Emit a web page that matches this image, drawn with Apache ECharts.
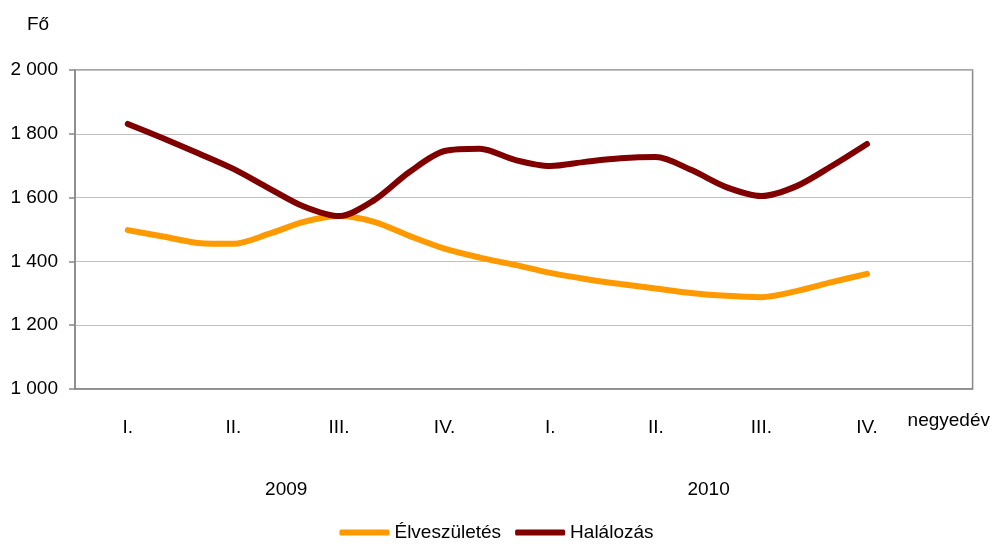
<!DOCTYPE html>
<html>
<head>
<meta charset="utf-8">
<script src="https://cdn.jsdelivr.net/npm/echarts@6/dist/echarts.min.js"></script>
<style>
  html, body { margin: 0; padding: 0; background: #fff; }
  #chart { width: 993px; height: 549px; }
</style>
</head>
<body>
<div id="chart"></div>
<script>
// quarter labels (2009 I. .. 2010 IV.), year labels
const quarters = ['I.', 'II.', 'III.', 'IV.', 'I.', 'II.', 'III.', 'IV.']
const years = ['2009', '2010']
const yearPos = [1.5, 5.5]

// monthly step inside the quarters (x = quarter index)
const steps = [0, 1/3, 2/3, 1, 4/3, 5/3, 2, 7/3, 8/3, 3, 10/3, 11/3, 4, 13/3, 14/3, 5, 16/3, 17/3, 6, 19/3, 20/3, 7]

// values (Fő)
const elveszuletes = [1498, 1478, 1458, 1455, 1486, 1524, 1542, 1524, 1480, 1440, 1412, 1389, 1364, 1345, 1329, 1315, 1301, 1292, 1288, 1307, 1335, 1361]
const halalozas = [1831, 1786, 1739, 1690, 1630, 1572, 1542, 1592, 1680, 1746, 1753, 1718, 1699, 1712, 1723, 1727, 1687, 1633, 1605, 1636, 1699, 1768]

const font = "'Liberation Sans Narrow', 'Liberation Sans', Arial, sans-serif"

const pairs = arr => steps.map((x, i) => [x, arr[i]])

const chart = echarts.init(document.getElementById('chart'))

chart.setOption({
    animation: false,
    textStyle: { fontFamily: font, color: '#000' },
    grid: {
        left: 75,
        right: 18,
        top: 70,
        bottom: 160,
        show: true,
        borderColor: '#888',
        borderWidth: 1.5
    },
    legend: {
        bottom: 2,
        left: 'center',
        icon: 'roundRect',
        itemWidth: 50,
        itemHeight: 6,
        itemGap: 14,
        textStyle: { fontFamily: font, fontSize: 19, color: '#000' },
        data: ['Élveszületés', 'Halálozás']
    },
    xAxis: [
        {
            type: 'value',
            min: -0.5,
            max: 8,
            name: 'negyedév',
            nameLocation: 'end',
            nameGap: -65,
            nameTextStyle: { fontFamily: font, fontSize: 19, color: '#000', align: 'left', verticalAlign: 'top', padding: [22, 0, 0, 0] },
            axisLine: { show: true, onZero: false, lineStyle: { color: '#888', width: 1.5 } },
            axisTick: { show: false },
            splitLine: { show: false },
            axisLabel: {
                customValues: quarters.map((q, i) => i),
                formatter: v => quarters[Math.round(v)] || '',
                fontSize: 19,
                color: '#000',
                margin: 29
            }
        },
        {
            type: 'value',
            min: -0.5,
            max: 8,
            position: 'bottom',
            axisLine: { show: false, onZero: false },
            axisTick: { show: false },
            splitLine: { show: false },
            axisLabel: {
                customValues: yearPos,
                formatter: v => years[yearPos.indexOf(v)] || '',
                fontSize: 19,
                color: '#000',
                margin: 91
            }
        }
    ],
    yAxis: {
        type: 'value',
        min: 1000,
        max: 2000,
        interval: 200,
        name: 'Fő',
        nameLocation: 'end',
        nameGap: 36,
        nameTextStyle: { fontFamily: font, fontSize: 19, color: '#000', align: 'center', padding: [0, 74, 0, 0] },
        axisLine: { show: true, onZero: false, lineStyle: { color: '#888', width: 1.5 } },
        axisTick: { show: true, length: 6, lineStyle: { color: '#888', width: 1.5 } },
        splitLine: { show: true, lineStyle: { color: '#c0c0c0', width: 1 } },
        axisLabel: {
            fontSize: 19,
            color: '#000',
            margin: 17,
            formatter: v => String(v).replace(/\B(?=(\d{3})+(?!\d))/g, ' ')
        }
    },
    series: [
        {
            name: 'Élveszületés',
            type: 'line',
            data: pairs(elveszuletes),
            smooth: 0.3,
            symbol: 'none',
            color: '#ff9900',
            lineStyle: { color: '#ff9900', width: 6, cap: 'round' }
        },
        {
            name: 'Halálozás',
            type: 'line',
            data: pairs(halalozas),
            smooth: 0.3,
            symbol: 'none',
            color: '#800000',
            lineStyle: { color: '#800000', width: 6, cap: 'round' }
        }
    ]
})
</script>
</body>
</html>
